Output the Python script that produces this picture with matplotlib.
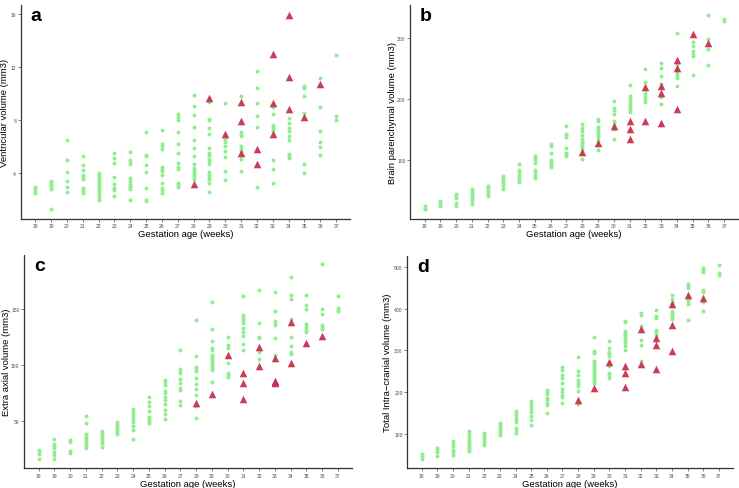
import matplotlib
matplotlib.use("Agg")
import matplotlib.pyplot as plt
import numpy as np

plt.rcParams['font.family'] = ['Liberation Sans', 'DejaVu Sans']

weeks = list(range(18, 38))

# ---- panel a: ventricular volume ----
vent_ctrl = [
    [2.5, 2.6, 2.75, 2.9, 3.0],
    [1.3, 2.85, 3.0, 3.1, 3.2, 3.35, 3.45],
    [2.6, 3.0, 3.45, 4.1, 5.0, 6.5],
    [2.55, 2.65, 2.75, 2.9, 3.6, 3.7, 3.9, 4.25, 4.6, 5.3],
    [2.0, 2.2, 2.35, 2.5, 2.65, 2.8, 2.95, 3.1, 3.25, 3.4, 3.55, 3.7, 3.85, 4.0],
    [2.3, 2.75, 2.9, 3.2, 3.7, 4.8, 5.15, 5.5],
    [2.0, 2.8, 2.95, 3.05, 3.2, 3.4, 3.65, 4.7, 4.85, 5.0, 5.6],
    [1.9, 2.0, 2.9, 4.1, 4.6, 5.3, 5.4, 7.1],
    [2.5, 2.75, 2.9, 3.3, 3.9, 4.2, 4.35, 4.5, 5.85, 6.05, 6.25, 7.3],
    [2.95, 3.1, 3.25, 4.35, 4.45, 4.75, 5.55, 6.25, 7.1, 8.05, 8.25, 8.45],
    [3.55, 3.7, 3.85, 4.1, 4.25, 4.4, 4.7, 5.3, 5.9, 6.5, 7.5, 8.4, 9.1, 9.9],
    [2.6, 3.3, 3.55, 3.7, 3.85, 4.1, 4.7, 4.9, 5.1, 5.35, 5.5, 5.9, 7.0, 7.4, 8.0, 8.1, 9.4, 9.5],
    [3.5, 4.2, 5.2, 5.7, 6.1, 6.35, 6.5, 6.65, 6.8, 6.9, 9.3],
    [4.2, 5.1, 5.7, 5.95, 6.1, 6.8, 6.95, 7.1, 9.8],
    [3.0, 7.5, 8.3, 9.3, 10.4, 11.7],
    [3.3, 4.3, 5.0, 7.2, 7.35, 7.5, 7.65, 8.5, 9.0],
    [5.15, 5.3, 5.45, 6.5, 6.8, 7.2, 7.4, 7.8, 8.2],
    [4.0, 4.7, 8.55, 9.8, 10.4, 10.5, 10.6],
    [5.4, 6.0, 6.4, 7.2, 9.0, 11.2],
    [8.0, 8.3, 12.9],
]
vent_case_wk = [28, 29, 30, 31, 31, 31, 32, 32, 33, 33, 33, 34, 34, 34, 35, 36]
vent_case = [3.2, 9.7, 6.98, 9.4, 7.93, 5.5, 5.85, 4.7, 13.0, 9.33, 6.98, 15.95, 11.28, 8.83, 8.28, 10.7]

# ---- panel b: brain parenchymal volume ----
brain_ctrl = [
    [20, 22, 25],
    [26, 28, 30, 33],
    [25, 31, 39, 42, 45],
    [29, 33, 37, 40, 43, 47, 50, 54],
    [42, 45, 48, 52, 55, 58],
    [53, 58, 61, 64, 68, 71, 74],
    [64, 67, 72, 76, 81, 85, 94],
    [71, 73, 77, 81, 85, 96, 100, 104, 108],
    [90, 93, 95, 98, 100, 112, 124, 127],
    [107, 110, 113, 121, 139, 141, 143, 156],
    [103, 118, 122, 125, 128, 131, 136, 142, 148, 153, 159],
    [117, 134, 138, 141, 145, 148, 152, 155, 165, 168],
    [136, 151, 154, 161, 165, 176, 183, 186, 197],
    [179, 183, 186, 189, 192, 196, 201, 206, 223],
    [195, 200, 205, 211, 228, 250],
    [193, 204, 225, 238, 252, 260],
    [222, 235, 238, 242, 246, 258, 263, 309],
    [240, 271, 274, 279, 288, 294],
    [257, 283, 299, 339],
    [329, 332],
]
brain_case_wk = [28, 29, 30, 31, 31, 31, 32, 32, 33, 33, 33, 34, 34, 34, 35, 36]
brain_case = [114, 128, 157, 164, 152, 135, 220, 164, 222, 210, 161, 265, 252, 184, 308, 293]

# ---- panel c: extra axial volume ----
extra_ctrl = [
    [16, 20, 22.5, 24],
    [16, 19, 22, 25.5, 27, 29, 34],
    [21, 23, 31, 33],
    [25.5, 27.3, 29, 30.8, 32.6, 34.4, 36, 38, 47.6, 53.8],
    [26.7, 30.2, 32, 33.8, 35.5, 37.3, 39, 40.9],
    [38, 39.7, 42, 43.8, 45.6, 47.3, 49],
    [33.8, 42, 45.6, 48.5, 51.5, 53.2, 55.3, 57.7, 60.3],
    [47.9, 49.7, 51.5, 53.2, 59, 62.7, 67, 71],
    [51.5, 56.2, 59.7, 65, 68.6, 71.5, 75, 76.8, 81.6, 84.2, 86.3],
    [63.9, 68, 77.4, 79.2, 83.3, 86.9, 92.2, 94, 95.7, 112.8],
    [52.7, 62.7, 72.7, 78, 82.7, 88, 94, 95.7, 97.5, 108, 140],
    [84.2, 95, 96.9, 98.7, 100.4, 102.2, 104, 105.8, 107.5, 109, 113.4, 115, 121, 132, 156],
    [88.6, 90.4, 92.8, 101.6, 115, 118, 125],
    [112.8, 118.7, 125.8, 129.4, 132.9, 137, 138.8, 140.6, 142.3, 144.7, 161],
    [105.5, 111, 123.5, 124.6, 137, 166.8],
    [108.7, 124, 135.8, 137, 139, 147.6, 164.8],
    [109.3, 111.6, 117, 124.6, 140.6, 158.8, 161.8, 178.6],
    [128.8, 131.4, 133.5, 136.4, 150, 153.5, 162.4],
    [132.3, 133.8, 135.3, 145.3, 150, 189.5],
    [147.6, 149, 150.6, 161.2],
]
extra_case_wk = [28, 29, 30, 31, 31, 31, 32, 32, 33, 33, 33, 33, 34, 34, 35, 36]
extra_case = [66, 74, 108.4, 92.5, 84, 69, 116, 98.7, 106.3, 85.7, 84.5, 83.3, 138.2, 101.6, 119.3, 125.5]

# ---- panel d: total intra-cranial volume ----
tic_ctrl = [
    [40, 46, 51],
    [46, 56, 61, 66],
    [50, 56, 61, 70, 77, 82],
    [59, 64, 69, 74, 78, 83, 88, 94, 101, 106],
    [74, 78, 83, 88, 93, 98, 102],
    [98, 102, 107, 112, 117, 122, 126],
    [102, 110, 115, 128, 133, 138, 144, 149, 155],
    [122, 133, 142, 152, 160, 166, 173, 178],
    [150, 168, 173, 181, 186, 195, 200, 205],
    [174, 189, 194, 200, 208, 221, 235, 240, 254, 261],
    [171, 202, 214, 219, 224, 229, 242, 251, 283],
    [222, 227, 232, 237, 242, 246, 251, 256, 261, 266, 270, 275, 294, 299, 333],
    [235, 240, 245, 262, 286, 291, 296, 306, 322],
    [301, 311, 317, 322, 328, 333, 338, 342, 347, 367, 371],
    [274, 313, 325, 359, 385, 389],
    [336, 344, 349, 378, 383, 397],
    [375, 380, 385, 389, 394, 406, 411, 416, 424, 432],
    [372, 411, 418, 424, 450, 455, 459],
    [395, 416, 439, 444, 488, 493, 498],
    [482, 486, 504],
]
tic_case_wk = [28, 29, 30, 31, 31, 31, 32, 32, 33, 33, 33, 34, 34, 34, 35, 36]
tic_case = [182, 211, 273, 262, 245, 213, 351, 267, 329, 313, 255, 412, 361, 299, 434, 426]

panels = [
    ('a', vent_ctrl, vent_case_wk, vent_case, 'Ventricular volume (mm3)', [4, 8, 12, 16],
     [0.028, 0.550, 0.446, 0.438], -0.034),
    ('b', brain_ctrl, brain_case_wk, brain_case, 'Brain parenchymal volume (mm3)', [100, 200, 300],
     [0.555, 0.550, 0.444, 0.438], -0.041),
    ('c', extra_ctrl, extra_case_wk, extra_case, 'Extra axial volume (mm3)', [50, 100, 150],
     [0.0325, 0.040, 0.444, 0.437], -0.040),
    ('d', tic_ctrl, tic_case_wk, tic_case, 'Total Intra\u2212cranial volume (mm3)', [100, 200, 300, 400, 500],
     [0.551, 0.040, 0.441, 0.435], -0.048),
]

fig = plt.figure(figsize=(7.39, 4.89), dpi=100)

for letter, ctrl, case_wk, case, ylab, yticks, rect, ylab_x in panels:
    ax = fig.add_axes(rect)
    cx = [w for w, vals in zip(weeks, ctrl) for _ in vals]
    cy = [v for vals in ctrl for v in vals]
    ax.scatter(cx, cy, s=8, marker='o', color='#90EE90', linewidths=0, zorder=2)
    ax.scatter(case_wk, case, s=30, marker='^', color='#C8324F', linewidths=0, alpha=0.95, zorder=3)

    allv = np.array(cy + case)
    lo, hi = allv.min(), allv.max()
    pad = 0.05 * (hi - lo)
    ax.set_ylim(lo - pad, hi + pad)
    ax.set_xlim(17.08, 37.9)
    ax.set_xticks(weeks)
    ax.set_yticks(yticks)
    ax.tick_params(labelsize=3.6, colors='#4d4d4d', length=2, width=0.5, pad=1.2)

    for side in ['top', 'right']:
        ax.spines[side].set_visible(False)
    for side in ['left', 'bottom']:
        ax.spines[side].set_color('#333333')
        ax.spines[side].set_linewidth(0.9)

    ax.set_xlabel('Gestation age (weeks)', fontsize=6.8, labelpad=0.5)
    ax.set_ylabel(ylab, fontsize=6.8)
    ax.yaxis.set_label_coords(ylab_x, 0.5)
    ax.text(0.03, 0.93, letter, transform=ax.transAxes, fontsize=14,
            fontweight='bold', va='baseline', ha='left')

fig.savefig('out.png', dpi=100)
